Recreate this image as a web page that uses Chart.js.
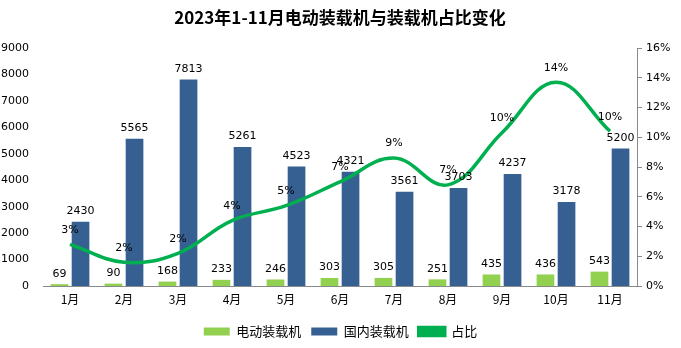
<!DOCTYPE html>
<html lang="zh">
<head>
    <meta charset="UTF-8" />
    <title>2023年1-11月电动装载机与装载机占比变化</title>
    <script src="https://cdn.jsdelivr.net/npm/chart.js"></script>
    <style>
        body { margin: 0; background: #fff; }
        #wrap { width: 681px; height: 348px; }
    </style>
</head>
<body>
<div id="wrap"><canvas id="chart" width="681" height="348"></canvas></div>
<script>
    const months = ['1月', '2月', '3月', '4月', '5月', '6月', '7月', '8月', '9月', '10月', '11月'];
    const electric = [69, 90, 168, 233, 246, 303, 305, 251, 435, 436, 543];
    const domestic = [2430, 5565, 7813, 5261, 4523, 4321, 3561, 3703, 4237, 3178, 5200];
    const share = [2.8, 1.6, 2.2, 4.4, 5.4, 7.0, 8.6, 6.8, 10.3, 13.7, 10.4]; // %

    const numFont = '11px "DejaVu Sans", Verdana, sans-serif';
    const cjk = '"Noto Sans CJK SC", sans-serif';

    // title and value labels drawn by hand
    const labelsPlugin = {
      id: 'labels',
      afterDraw(chart) {
        const ctx = chart.ctx;
        ctx.save();
        ctx.fillStyle = '#000';
        ctx.textAlign = 'center';
        ctx.textBaseline = 'middle';
        ctx.font = 'bold 17px ' + cjk;
        ctx.fillText('2023年1-11月电动装载机与装载机占比变化', 340, 18);

        ctx.font = numFont;
        ctx.textBaseline = 'bottom';
        chart.data.datasets.forEach((ds, i) => {
          const meta = chart.getDatasetMeta(i);
          meta.data.forEach((el, j) => {
            if (ds.type === 'line') {
              ctx.fillText(Math.round(ds.data[j]) + '%', el.x, el.y - 9);
            } else {
              ctx.fillText(ds.data[j], el.x, el.y - 5);
            }
          });
        });
        ctx.restore();
      }
    };

    new Chart(document.getElementById('chart'), {
      type: 'bar',
      data: {
        labels: months,
        datasets: [
          {
            label: '电动装载机',
            data: electric,
            backgroundColor: '#92D050',
            yAxisID: 'y',
            order: 2
          },
          {
            label: '国内装载机',
            data: domestic,
            backgroundColor: '#376092',
            yAxisID: 'y',
            order: 2
          },
          {
            type: 'line',
            label: '占比',
            data: share,
            borderColor: '#00B050',
            backgroundColor: '#00B050',
            borderWidth: 3.5,
            pointRadius: 0,
            tension: 0.4,
            yAxisID: 'y1',
            order: 1
          }
        ]
      },
      options: {
        responsive: false,
        animation: false,
        layout: { padding: { top: 48, left: 0, right: 0, bottom: 0 } },
        datasets: { bar: { categoryPercentage: 0.78, barPercentage: 0.84 } },
        scales: {
          x: {
            grid: { display: false, drawTicks: false },
            border: { color: '#898989' },
            ticks: { color: '#000', font: { family: cjk, size: 12 }, padding: 6 },
            afterFit(s) { s.height = 29; }
          },
          y: {
            position: 'left',
            min: 0, max: 9000,
            ticks: { stepSize: 1000, color: '#000', font: { family: 'DejaVu Sans', size: 11 }, padding: 6,
                     callback: v => String(v) },
            grid: { display: false },
            border: { display: false },
            afterFit(s) { s.width = 43; }
          },
          y1: {
            position: 'right',
            min: 0, max: 16,
            ticks: { stepSize: 2, color: '#000', font: { family: 'DejaVu Sans', size: 11 }, padding: 4,
                     callback: v => v + '%' },
            grid: { drawOnChartArea: false, color: '#898989', tickLength: 5 },
            border: { color: '#898989' },
            afterFit(s) { s.width = 44; }
          }
        },
        plugins: {
          legend: {
            position: 'bottom',
            labels: {
              color: '#000',
              font: { family: cjk, size: 13 },
              boxWidth: 26,
              boxHeight: 8,
              padding: 10,
              sort: (a, b) => a.datasetIndex - b.datasetIndex
            }
          },
          tooltip: { enabled: false }
        }
      },
      plugins: [labelsPlugin]
    });
</script>
</body>
</html>
